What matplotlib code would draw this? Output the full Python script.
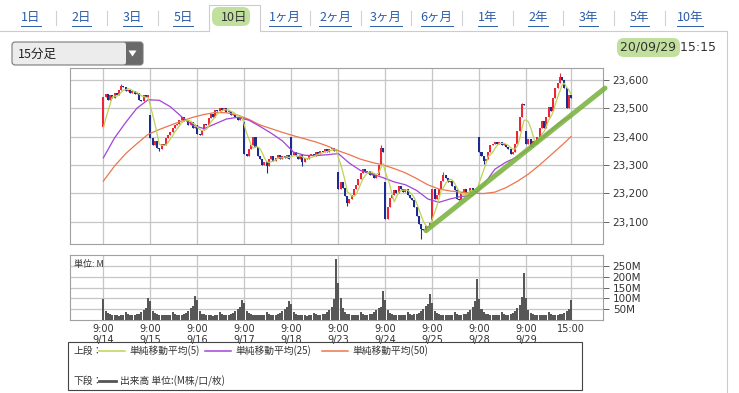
import matplotlib
matplotlib.use("Agg")
import matplotlib.pyplot as plt
import numpy as np
import pandas as pd
from matplotlib.patches import Rectangle, FancyBboxPatch, Polygon
from matplotlib.lines import Line2D
from matplotlib.transforms import Affine2D

plt.rcParams['font.family'] = ['DejaVu Sans', 'Noto Sans CJK JP']
JP = ['Noto Sans CJK JP', 'DejaVu Sans']

# ---- data: 15 minute bars, 21 per trading day ----
days = ["9/14", "9/15", "9/16", "9/17", "9/18", "9/23", "9/24", "9/25", "9/28", "9/29"]
BARS = 21

day_opens = [23435, 23475, 23440, 23450, 23400, 23275, 23240, 23105, 23400, 23420]

closes_914 = [23540, 23550, 23530, 23545, 23535, 23555, 23545, 23565, 23580, 23575, 23560,
              23565, 23555, 23560, 23550, 23555, 23530, 23525, 23545, 23540, 23545]
closes_915 = [23395, 23370, 23385, 23360, 23355, 23375, 23370, 23395, 23405, 23415, 23430,
              23440, 23445, 23460, 23470, 23455, 23460, 23440, 23450, 23430, 23435]
closes_916 = [23410, 23405, 23425, 23445, 23440, 23465, 23480, 23470, 23495, 23490, 23500,
              23495, 23500, 23485, 23490, 23475, 23480, 23470, 23460, 23470, 23465]
closes_917 = [23340, 23330, 23355, 23370, 23400, 23365, 23330, 23320, 23300, 23310, 23295,
              23320, 23330, 23315, 23325, 23335, 23320, 23330, 23325, 23335, 23320]
closes_918 = [23335, 23345, 23330, 23320, 23335, 23310, 23325, 23320, 23335, 23340, 23330,
              23345, 23340, 23350, 23345, 23355, 23345, 23355, 23360, 23350, 23355]
closes_923 = [23215, 23240, 23220, 23190, 23165, 23180, 23195, 23215, 23230, 23250, 23270,
              23285, 23275, 23280, 23265, 23270, 23255, 23265, 23300, 23360, 23345]
closes_924 = [23110, 23150, 23185, 23195, 23210, 23200, 23225, 23215, 23205, 23215, 23195,
              23185, 23175, 23150, 23120, 23090, 23075, 23070, 23085, 23080, 23095]
closes_925 = [23215, 23180, 23195, 23215, 23245, 23265, 23255, 23240, 23245, 23225, 23210,
              23180, 23175, 23205, 23215, 23200, 23205, 23220, 23210, 23205, 23210]
closes_928 = [23345, 23330, 23315, 23320, 23345, 23370, 23375, 23380, 23375, 23380, 23370,
              23375, 23365, 23355, 23340, 23345, 23375, 23420, 23470, 23515, 23510]
closes_929 = [23375, 23390, 23365, 23385, 23375, 23400, 23430, 23455, 23430, 23470, 23505,
              23490, 23535, 23570, 23590, 23612, 23600, 23570, 23500, 23545, 23535]
closes_by_day = [closes_914, closes_915, closes_916, closes_917, closes_918,
                 closes_923, closes_924, closes_925, closes_928, closes_929]

# wick extremes that stick out of the bodies, keyed by (day, bar)
wick_highs = {(0, 8): 23585, (5, 19): 23372, (7, 5): 23275, (8, 19): 23518, (9, 15): 23623}
wick_lows = {(1, 4): 23350, (3, 10): 23273, (4, 5): 23295, (5, 4): 23155,
             (6, 16): 23040, (8, 2): 23305}

# last closes before 9/14, only used to start the 5-bar average
prev_closes = [23395, 23400, 23410, 23406]

# volume in millions
vol_914 = [97, 42, 30, 24, 21, 20, 19, 18, 19, 20, 36, 24, 22, 21, 22, 24, 28, 36, 45, 56, 102]
vol_915 = [88, 40, 30, 25, 22, 20, 19, 20, 19, 21, 34, 25, 22, 21, 22, 25, 30, 40, 52, 62, 113]
vol_916 = [90, 38, 28, 24, 22, 20, 19, 18, 19, 20, 33, 24, 21, 20, 22, 24, 30, 38, 50, 60, 93]
vol_917 = [80, 40, 30, 24, 22, 21, 20, 19, 20, 21, 35, 25, 22, 21, 23, 25, 30, 38, 48, 58, 86]
vol_918 = [72, 36, 28, 23, 21, 20, 19, 18, 19, 20, 32, 24, 22, 22, 24, 28, 35, 45, 60, 97, 286]
vol_923 = [170, 100, 55, 35, 28, 24, 22, 21, 22, 23, 36, 25, 23, 22, 24, 27, 33, 45, 55, 60, 134]
vol_924 = [90, 45, 32, 26, 23, 22, 21, 20, 21, 22, 35, 25, 23, 24, 26, 30, 38, 50, 62, 75, 121]
vol_925 = [80, 42, 30, 25, 22, 21, 20, 19, 20, 21, 33, 24, 22, 22, 24, 28, 34, 45, 58, 88, 189]
vol_928 = [95, 48, 33, 27, 24, 22, 21, 20, 21, 22, 34, 25, 23, 23, 26, 32, 40, 52, 70, 105, 219]
vol_929 = [100, 45, 30, 25, 22, 21, 20, 19, 20, 21, 35, 24, 22, 21, 22, 24, 28, 32, 38, 50, 90]
vol_by_day = [vol_914, vol_915, vol_916, vol_917, vol_918,
              vol_923, vol_924, vol_925, vol_928, vol_929]

# 25 and 50 bar averages every 5 bars
ma_idx = list(range(0, 206, 5)) + [209]
ma25 = [23325, 23395, 23450, 23500, 23530, 23528, 23505, 23470, 23440, 23428,
        23445, 23462, 23468, 23458, 23436, 23412, 23385, 23345, 23334, 23333,
        23336, 23340, 23306, 23280, 23268, 23255, 23240, 23230, 23210, 23180,
        23168, 23180, 23189, 23192, 23230, 23285, 23310, 23328, 23356, 23387,
        23422, 23455, 23472]
ma50 = [23243, 23296, 23340, 23375, 23408, 23425, 23440, 23455, 23468, 23478,
        23485, 23484, 23476, 23461, 23441, 23428, 23415, 23403, 23392, 23381,
        23367, 23350, 23336, 23320, 23309, 23300, 23287, 23272, 23252, 23230,
        23215, 23208, 23204, 23200, 23199, 23204, 23220, 23242, 23268, 23300,
        23335, 23370, 23400]

# hand drawn trend line
trend_x = [144.2, 224.2]
trend_y = [23068, 23571]

price_ticks = [23100, 23200, 23300, 23400, 23500, 23600]
vol_ticks = [50, 100, 150, 200, 250]
tabs = ["1日", "2日", "3日", "5日", "10日", "1ヶ月", "2ヶ月", "3ヶ月", "6ヶ月",
        "1年", "2年", "3年", "5年", "10年"]

RED = '#ee2536'
BLUE = '#1d2a8e'
C5, C25, C50 = '#bed353', '#a244d8', '#ec764e'
GRID = '#c6c6c6'

# ---- build series ----
closes = np.array(sum(closes_by_day, []), dtype=float)
opens = np.empty_like(closes)
for d, dc in enumerate(closes_by_day):
    s = d * BARS
    opens[s] = day_opens[d]
    opens[s + 1:s + BARS] = dc[:-1]
highs = np.maximum(opens, closes)
lows = np.minimum(opens, closes)
for (d, b), v in wick_highs.items():
    highs[d * BARS + b] = v
for (d, b), v in wick_lows.items():
    lows[d * BARS + b] = v
x = np.arange(len(closes))
cols = np.where(closes >= opens, RED, BLUE)
ma5 = pd.Series(prev_closes + list(closes)).rolling(5).mean().to_numpy()[len(prev_closes):]
volume = np.array(sum(vol_by_day, []), dtype=float)

W, H = 739, 393
fig = plt.figure(figsize=(W / 100, H / 100), dpi=100)
PIX = Affine2D().scale(1 / W, -1 / H).translate(0, 1) + fig.transFigure


def box(l, t, r, b):
    return [l / W, 1 - b / H, (r - l) / W, (b - t) / H]


xlim = (-14.9, 223.3)
day_ticks = [d * BARS for d in range(len(days))] + [len(closes) - 1]

# ---- price panel ----
ax = fig.add_axes(box(70, 68, 603, 244))
ax.set_xlim(*xlim)
ax.set_ylim(23021, 23642)
ax.set_xticks(day_ticks)
ax.set_xticklabels([])
ax.set_yticks(price_ticks)
ax.set_yticklabels([f"{v:,}" for v in price_ticks])
ax.yaxis.tick_right()
ax.tick_params(axis='x', length=0)
ax.tick_params(axis='y', length=4, width=0.7, color='#666666', pad=3,
               labelsize=7.5, labelcolor='#333333')
ax.grid(True, color=GRID, lw=0.9)
ax.set_axisbelow(True)
for sp in ax.spines.values():
    sp.set_color('#a0a0a0')
    sp.set_linewidth(0.8)

ax.vlines(x, lows, highs, colors=cols, lw=0.8, zorder=3)
ax.bar(x, np.maximum(np.abs(closes - opens), 3), bottom=np.minimum(opens, closes),
       width=0.9, color=cols, linewidth=0, zorder=3)
ax.plot(ma_idx, ma50, color=C50, lw=0.9, zorder=4)
ax.plot(ma_idx, ma25, color=C25, lw=0.9, zorder=4)
ax.plot(x, ma5, color=C5, lw=0.9, zorder=4)
ax.plot(trend_x, trend_y, color='#7db443', lw=3.6, alpha=0.9,
        solid_capstyle='round', clip_on=False, zorder=6)

# ---- volume panel ----
axv = fig.add_axes(box(70, 255, 603, 319.5))
axv.set_xlim(*xlim)
axv.set_ylim(0, 304)
axv.bar(x, volume, width=0.9, color='#575757', linewidth=0, zorder=3)
axv.set_xticks(day_ticks)
axv.set_xticklabels([f"9:00\n{d}" for d in days] + ["15:00"])
axv.set_yticks(vol_ticks)
axv.set_yticklabels([f"{v}M" for v in vol_ticks])
axv.yaxis.tick_right()
axv.tick_params(axis='x', length=0, pad=3, labelsize=7, labelcolor='#333333')
axv.tick_params(axis='y', length=4, width=0.7, color='#666666', pad=3,
                labelsize=7.5, labelcolor='#333333')
axv.grid(True, color=GRID, lw=0.9)
axv.set_axisbelow(True)
for sp in axv.spines.values():
    sp.set_color('#a0a0a0')
    sp.set_linewidth(0.8)
axv.text(0.007, 0.93, "単位: M", transform=axv.transAxes, va='top', ha='left',
         fontsize=6.5, color='#333333', family=JP)

# ---- page furniture: tabs ----
fig.add_artist(Line2D([0, 209], [31, 31], transform=PIX, color='#cccccc', lw=0.8))
fig.add_artist(Line2D([260, 727], [31, 31], transform=PIX, color='#cccccc', lw=0.8))
fig.add_artist(Line2D([727, 727], [31, 393], transform=PIX, color='#cccccc', lw=0.8))
fig.add_artist(Line2D([209, 209, 260, 260], [31, 5, 5, 31], transform=PIX,
                      color='#cccccc', lw=0.8))
fig.add_artist(FancyBboxPatch((212, 7), 38, 19, boxstyle="round,pad=0,rounding_size=7",
                              transform=PIX, fc='#b6da8c', ec='none', alpha=0.85))

tab_texts = []
for i, lab in enumerate(tabs):
    cx = 31 + 50.7 * i
    active = lab == "10日"
    t = fig.text(cx, 17, lab, transform=PIX, ha='center', va='center', fontsize=9,
                 color='#333333' if active else '#2b5ca8', family=JP)
    tab_texts.append((t, active))
    if i < len(tabs) - 1 and i not in (3, 4):
        sx = cx + 25.35
        fig.add_artist(Line2D([sx, sx], [11, 25], transform=PIX, color='#d0d0d0', lw=0.8))

# dropdown
fig.add_artist(FancyBboxPatch((12, 42), 131, 23, boxstyle="round,pad=0,rounding_size=3",
                              transform=PIX, fc='#6a6a6a', ec='none'))
fig.add_artist(FancyBboxPatch((12, 42), 114, 23, boxstyle="round,pad=0,rounding_size=3",
                              transform=PIX, fc='#ececec', ec='none'))
fig.add_artist(Rectangle((116, 42), 6, 23, transform=PIX, fc='#ececec', ec='none'))
fig.add_artist(FancyBboxPatch((12, 42), 131, 23, boxstyle="round,pad=0,rounding_size=3",
                              transform=PIX, fc='none', ec='#7a7a7a', lw=0.8))
fig.add_artist(Polygon([(128.5, 50.5), (136.5, 50.5), (132.5, 56.5)], closed=True,
                       transform=PIX, fc='white', ec='none'))
fig.text(18, 54, "15分足", transform=PIX, va='center', ha='left', fontsize=9,
         color='#222222', family=JP)

# date stamp
fig.add_artist(FancyBboxPatch((617, 38), 63, 19, boxstyle="round,pad=0,rounding_size=7",
                              transform=PIX, fc='#b6da8c', ec='none', alpha=0.85))
fig.text(620, 47.5, "20/09/29 15:15", transform=PIX, va='center', ha='left',
         fontsize=9, color='#333333')

# ---- legend box ----
fig.add_artist(Rectangle((68, 342), 514, 48, transform=PIX, fc='none', ec='#444444', lw=0.8))
row1, row2 = 351, 381
LF = 7
fig.text(74, row1, "上段：", transform=PIX, va='center', fontsize=LF, color='#333333', family=JP)
legend_items = [(99, 125, 129, C5, "単純移動平均(5)"),
                (205, 231, 235, C25, "単純移動平均(25)"),
                (322, 348, 352, C50, "単純移動平均(50)")]
for x0, x1, tx, c, lab in legend_items:
    fig.add_artist(Line2D([x0, x1], [row1, row1], transform=PIX, color=c, lw=1.1))
    fig.text(tx, row1, lab, transform=PIX, va='center', fontsize=LF, color='#333333', family=JP)
fig.text(74, row2, "下段：", transform=PIX, va='center', fontsize=LF, color='#333333', family=JP)
fig.add_artist(Line2D([99, 116], [row2, row2], transform=PIX, color='#555555', lw=2.0))
fig.text(120, row2, "出来高 単位:(M株/口/枚)", transform=PIX, va='center', fontsize=LF,
         color='#333333', family=JP)

# underline the link tabs
fig.canvas.draw()
renderer = fig.canvas.get_renderer()
for t, active in tab_texts:
    if active:
        continue
    bb = t.get_window_extent(renderer)
    fig.add_artist(Line2D([bb.x0, bb.x1], [26, 26], transform=PIX, color='#2b5ca8', lw=0.7))

fig.savefig("out.png", dpi=100)
